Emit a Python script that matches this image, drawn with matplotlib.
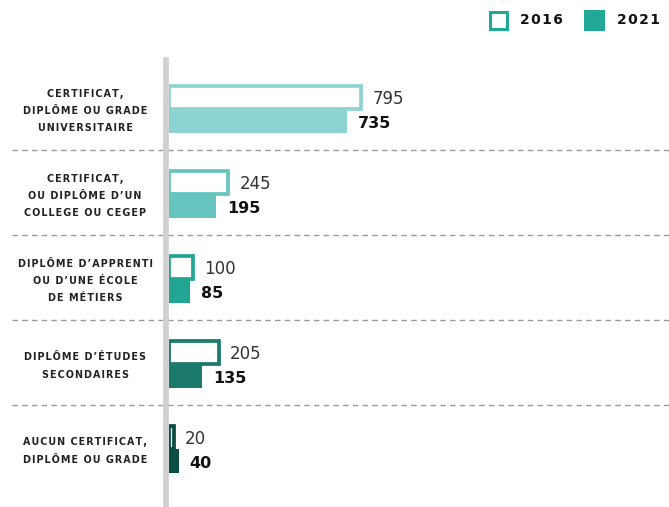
import matplotlib
matplotlib.use("Agg")
import matplotlib.pyplot as plt
from matplotlib.patches import Rectangle
import matplotlib.transforms as mtransforms

categories = [
    "CERTIFICAT,\nDIPLÔME OU GRADE\nUNIVERSITAIRE",
    "CERTIFICAT,\nOU DIPLÔME D’UN\nCOLLEGE OU CEGEP",
    "DIPLÔME D’APPRENTI\nOU D’UNE ÉCOLE\nDE MÉTIERS",
    "DIPLÔME D’ÉTUDES\nSECONDAIRES",
    "AUCUN CERTIFICAT,\nDIPLÔME OU GRADE",
]
v2016 = [795, 245, 100, 205, 20]
v2021 = [735, 195, 85, 135, 40]
colors = ["#8dd3d1", "#66c6bf", "#22a693", "#1c7a6c", "#0b4d42"]
years = ["2016", "2021"]


def spaced(s, sep="\u200a"):
    # espacement des lettres (hair space entre les caractères)
    return "\n".join(sep.join(line) for line in s.split("\n"))


W, H = 669, 507
fig = plt.figure(figsize=(W / 100, H / 100), dpi=100)
ax = fig.add_axes([169 / W, 0, 500 / W, 447 / H])
ax.set_xlim(0, 2066)
ax.set_ylim(4.688, -0.571)
ax.axis("off")

ypos = list(range(len(categories)))

# 2016 : contour seulement, 2021 : plein
for i, y in enumerate(ypos):
    ax.barh(y - 0.13, v2016[i], height=0.26, color="white",
            edgecolor=colors[i], linewidth=2.7, zorder=2)
    ax.barh(y + 0.145, v2021[i], height=0.29, color=colors[i],
            edgecolor="none", zorder=3)
    ax.annotate(str(v2016[i]), xy=(v2016[i], y - 0.13), xytext=(8, -4.8),
                textcoords="offset points", ha="left", va="baseline",
                fontsize=12, color="#333333")
    ax.annotate(str(v2021[i]), xy=(v2021[i], y + 0.145), xytext=(8, -4.8),
                textcoords="offset points", ha="left", va="baseline",
                fontsize=11.5, fontweight="bold", color="#111111")

trans = mtransforms.blended_transform_factory(ax.transAxes, ax.transData)
for i, y in enumerate(ypos):
    ax.text(-0.168, y + 0.03, spaced(categories[i]), transform=trans,
            ha="center", va="center", fontsize=6.9, fontweight="bold",
            color="#222222", linespacing=1.9, multialignment="center")

# lignes pointillées entre les groupes
for y in ypos[:-1]:
    ax.axhline(y + 0.485, xmin=(12 - 169) / 500, xmax=1, color="#9a9a9a",
               linewidth=1, linestyle=(0, (4, 3)), clip_on=False, zorder=1)

# axe vertical gris
ax.axvline(-11.6, ymin=0, ymax=1, color="#d0d0d0", linewidth=4.1,
           clip_on=False, zorder=5)

# légende
fig.add_artist(Rectangle((489.5 / W, 1 - 29 / H), 17 / W, 17 / H,
                         transform=fig.transFigure, facecolor="white",
                         edgecolor="#22a896", linewidth=2.2))
fig.add_artist(Rectangle((584 / W, 1 - 30.5 / H), 21 / W, 21 / H,
                         transform=fig.transFigure, facecolor="#22a896",
                         edgecolor="none"))
fig.text(520 / W, 1 - 20.5 / H, spaced(years[0]), ha="left", va="center",
         fontsize=10, fontweight="bold", color="#111111")
fig.text(617 / W, 1 - 20.5 / H, spaced(years[1]), ha="left", va="center",
         fontsize=10, fontweight="bold", color="#111111")

fig.savefig("out.png", dpi=100)
